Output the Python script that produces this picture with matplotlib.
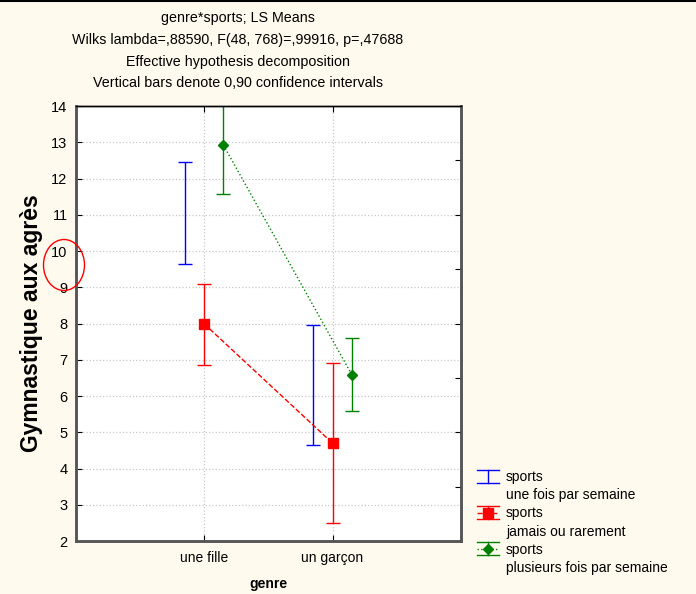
import matplotlib.pyplot as plt
from matplotlib.lines import Line2D
from matplotlib.patches import Ellipse
from matplotlib.legend_handler import HandlerBase

plt.rcParams['font.family'] = ['Liberation Sans', 'DejaVu Sans']

genres = ['une fille', 'un garçon']
series_names = ['sports\nune fois par semaine',
                'sports\njamais ou rarement',
                'sports\nplusieurs fois par semaine']

# means and 0.90 confidence limits
une_fois_mean = [11.05, 6.30]
une_fois_low = [9.64, 4.64]
une_fois_high = [12.45, 7.97]

jamais_mean = [7.99, 4.70]
jamais_low = [6.86, 2.50]
jamais_high = [9.09, 6.92]

plusieurs_mean = [12.92, 6.59]
plusieurs_low = [11.57, 5.59]
plusieurs_high = [14.27, 7.59]

y_ticks = [2, 3, 4, 5, 6, 7, 8, 9, 10, 11, 12, 13, 14]
right_ticks = [2, 3.5, 5, 6.5, 8, 9.5, 11, 12.5, 14]

bg = '#fff9ee'
fig = plt.figure(figsize=(6.96, 5.94), dpi=100, facecolor=bg)
ax = fig.add_axes([0.109, 0.0892, 0.5532, 0.7323])
ax.set_facecolor('white')

pos = [1, 2]
offsets = [-0.15, 0.0, 0.15]
colors = ['#0000ff', '#ff0000', '#008000']
line_styles = ['none', '--', ':']
markers = ['none', 's', 'D']
marker_sizes = [0, 6.5, 5.5]
data = [(une_fois_mean, une_fois_low, une_fois_high),
        (jamais_mean, jamais_low, jamais_high),
        (plusieurs_mean, plusieurs_low, plusieurs_high)]

for (m, lo, hi), off, c, ls, mk, ms in zip(data, offsets, colors, line_styles,
                                          markers, marker_sizes):
    x = [p + off for p in pos]
    yerr = [[mi - l for mi, l in zip(m, lo)], [h - mi for mi, h in zip(m, hi)]]
    ax.errorbar(x, m, yerr=yerr, color=c, ecolor=c, elinewidth=1,
                capsize=5, capthick=1, linestyle=ls, marker=mk,
                markersize=ms, lw=1)

ax.set_xlim(0, 3)
ax.set_ylim(2, 14)
ax.set_xticks(pos)
ax.set_xticklabels(genres, fontsize=10)
ax.set_yticks(y_ticks)
ax.tick_params(axis='y', labelsize=10.5, direction='in', length=4, pad=6)
ax.tick_params(axis='x', direction='in', length=4, top=True, pad=7)
ax.grid(True, color='#c8c8c8', linestyle=':', linewidth=0.9)
ax.set_axisbelow(True)

ax2 = ax.twinx()
ax2.set_ylim(2, 14)
ax2.set_yticks(right_ticks)
ax2.tick_params(axis='y', direction='in', length=4, labelright=False)

for a in (ax, ax2):
    a.spines['top'].set_color('black')
    a.spines['top'].set_linewidth(1)
    for s in ('left', 'bottom', 'right'):
        a.spines[s].set_color('#555555')
        a.spines[s].set_linewidth(1.8)

ax.set_xlabel('genre', fontsize=10, fontweight='bold', labelpad=9)
ax.set_ylabel('Gymnastique aux agrès', fontsize=16.5, fontweight='bold', labelpad=6)

titles = ['genre*sports; LS Means',
          'Wilks lambda=,88590, F(48, 768)=,99916, p=,47688',
          'Effective hypothesis decomposition',
          'Vertical bars denote 0,90 confidence intervals']
for i, t in enumerate(titles):
    fig.text(0.342, 1 - (18 + i * 21.8) / 594, t, ha='center', va='center', fontsize=10.3)


class ErrHandle:
    def __init__(self, color, ls, marker, ms):
        self.color, self.ls, self.marker, self.ms = color, ls, marker, ms


class ErrHandler(HandlerBase):
    # STATISTICA-style key: full width caps, vertical bar, line and marker
    def create_artists(self, legend, h, xd, yd, width, height, fontsize, trans):
        cy = yd + height / 2
        half = height * 0.68
        arts = [
            Line2D([xd, xd + width], [cy + half, cy + half], color=h.color, lw=1),
            Line2D([xd, xd + width], [cy - half, cy - half], color=h.color, lw=1),
            Line2D([xd + width / 2] * 2, [cy - half, cy + half], color=h.color, lw=1),
        ]
        if h.ls != 'none':
            arts.append(Line2D([xd, xd + width], [cy, cy], color=h.color,
                               lw=1, linestyle=h.ls))
            arts.append(Line2D([xd + width / 2], [cy], color=h.color,
                               marker=h.marker, markersize=h.ms, linestyle='none'))
        for a in arts:
            a.set_transform(trans)
        return arts


handles, labels = [], []
blank = Line2D([], [], linestyle='none')
for name, c, ls, mk, ms in zip(series_names, colors, line_styles, markers, marker_sizes):
    first, second = name.split('\n')
    handles += [ErrHandle(c, ls, mk, ms), blank]
    labels += [first, second]
fig.legend(handles, labels, loc='upper left', bbox_to_anchor=(0.677, 0.218),
           frameon=False, fontsize=10, labelspacing=0.3, handlelength=1.6,
           handletextpad=0.5, borderaxespad=0,
           handler_map={ErrHandle: ErrHandler()})

# red circle around the 9-10 tick labels
fig.patches.append(Ellipse((64 / 696, 1 - 265 / 594), 41 / 696, 51 / 594,
                           transform=fig.transFigure, fill=False,
                           edgecolor='red', linewidth=1))
fig.add_artist(Line2D([0, 1], [0.998, 0.998], color='black', lw=1.5,
                      transform=fig.transFigure))

fig.savefig('out.png', dpi=100, facecolor=bg)
